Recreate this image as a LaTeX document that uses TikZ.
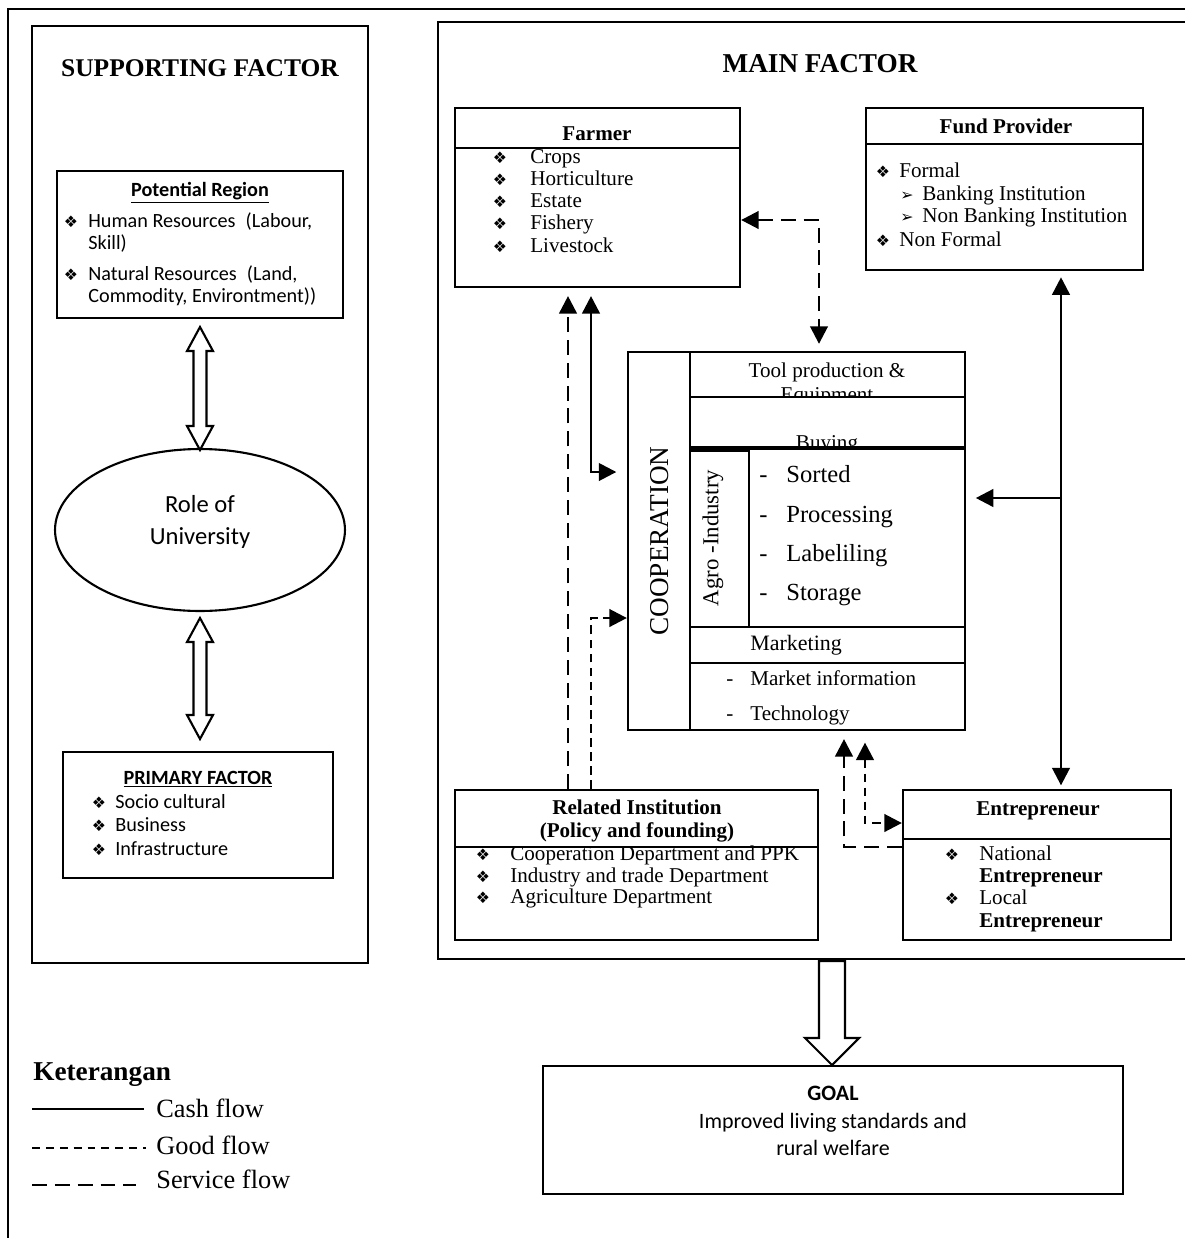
\documentclass[tikz,border=0pt]{standalone}
\usepackage{fontspec}
\setmainfont{Liberation Serif}
\newfontfamily\calibri{Carlito}
\newfontfamily\dingbat{DejaVu Sans}
\usetikzlibrary{arrows.meta, fit, shapes.geometric}

\tikzset{
  box/.style={draw, line width=1.3pt, inner sep=0pt},
  rule/.style={line width=1.3pt},
  outline/.style={line width=1.1pt},
  flow/.style={line width=1.5pt, >={Triangle[length=10pt,width=10pt]}},
  cash/.style={flow},
  good/.style={flow, dash pattern=on 5pt off 3pt},
  service/.style={flow, dash pattern=on 8.5pt off 4.5pt},
  hollow/.style={draw, line width=1.2pt, fill=white, line join=miter},
  lbl/.style={inner sep=0pt, anchor=base west},
  ctr/.style={inner sep=0pt, anchor=base},
  serif/.style={font=\fontsize{12}{14}\selectfont},
  serifbf/.style={font=\fontsize{12}{14}\selectfont\bfseries},
  sans/.style={font=\calibri\fontsize{11.5}{13}\selectfont},
  sansbf/.style={font=\calibri\fontsize{11.5}{13}\selectfont\bfseries},
}
\newcommand{\dmd}{{\dingbat\fontsize{9}{9}\selectfont ❖}}
\newcommand{\tri}{{\dingbat\fontsize{9}{9}\selectfont ➢}}

\begin{document}
\begin{tikzpicture}[x=0.02cm, y=-0.02cm]
    \useasboundingbox (0,0) rectangle (1185,1238);
    \draw[outline] (8,1238) -- (8,9) -- (1185,9);

    % supporting factor
    \node[box, fit={(32,26) (368,963)}] (supp) {};
    \node[ctr, font=\fontsize{14.5}{16}\selectfont\bfseries] (supptitle) at (200,76) {SUPPORTING FACTOR};
    \node[box, fit={(57,171) (343,318)}] (potreg) {};
    \node[ctr, sansbf] (pottitle) at (200,196) {\underline{Potential Region}};
    \foreach \y/\t [count=\i] in {227/{Human Resources\enspace(Labour,}, 249/{Skill)}, 280/{Natural Resources\enspace(Land,}, 302/{Commodity, Environtment))}}
        \node[lbl, sans] (pot\i) at (88,\y) {\t};
    \foreach \y [count=\i] in {227, 280}
        \node[ctr] (potb\i) at (71,\y) {\dmd};

    \node[draw, ellipse, line width=1.2pt, minimum width=5.8cm, minimum height=3.24cm] (univ) at (200,530) {};
    \node[ctr, font=\calibri\fontsize{14}{16}\selectfont] (univ1) at (200,512) {Role of};
    \node[ctr, font=\calibri\fontsize{14}{16}\selectfont] (univ2) at (200,544) {University};
    \foreach \ya/\yb in {327/450, 618/739}
        \draw[hollow] (200,\ya) -- (213,\ya+24) -- (206.5,\ya+24) -- (206.5,\yb-24) -- (213,\yb-24)
            -- (200,\yb) -- (187,\yb-24) -- (193.5,\yb-24) -- (193.5,\ya+24) -- (187,\ya+24) -- cycle;

    \node[box, fit={(63,752) (333,878)}] (prim) {};
    \node[ctr, sansbf] (primtitle) at (198,784) {\underline{PRIMARY FACTOR}};
    \foreach \y/\t [count=\i] in {808/Socio cultural, 831/Business, 855/Infrastructure} {
        \node[ctr] (primb\i) at (99,\y) {\dmd};
        \node[lbl, sans] (prim\i) at (115,\y) {\t};
    }

    % main factor
    \draw[rule] (1185,22) -- (438,22) -- (438,959) -- (1185,959);
    \node[ctr, font=\fontsize{15.5}{18}\selectfont\bfseries] (maintitle) at (820,72) {MAIN FACTOR};

    \node[box, fit={(455,108) (740,287)}] (farmer) {};
    \draw[rule] (455,148) -- (740,148);
    \node[ctr, serifbf] (farmtitle) at (597,140) {Farmer};
    \foreach \y/\t [count=\i] in {163/Crops, 185/Horticulture, 207/Estate, 229/Fishery, 252/Livestock} {
        \node[ctr] (farmb\i) at (500,\y) {\dmd};
        \node[lbl, serif] (farm\i) at (530,\y) {\t};
    }

    \node[box, fit={(866,108) (1143,270)}] (fund) {};
    \draw[rule] (866,144) -- (1143,144);
    \node[ctr, serifbf] (fundtitle) at (1006,133) {Fund Provider};
    \node[ctr] (fundb1) at (883,177) {\dmd};
    \node[lbl, serif] (fund1) at (899,177) {Formal};
    \node[ctr] (fundb2) at (907,200) {\tri};
    \node[lbl, serif] (fund2) at (922,200) {Banking Institution};
    \node[ctr] (fundb3) at (907,222) {\tri};
    \node[lbl, serif] (fund3) at (922,222) {Non Banking Institution};
    \node[ctr] (fundb4) at (883,246) {\dmd};
    \node[lbl, serif] (fund4) at (899,246) {Non Formal};

    % cooperation
    \node[box, fit={(628,352) (965,730)}] (coop) {};
    \draw[rule] (690,352) -- (690,730);
    \draw[rule] (690,397) -- (965,397);
    \draw[line width=2pt] (690,448) -- (965,448);
    \draw[rule] (690,627) -- (965,627);
    \draw[rule] (690,663) -- (965,663);
    \node[box, fit={(690,451) (749,627)}] (agro) {};
    \node[inner sep=0pt, rotate=90, font=\fontsize{15.5}{18}\selectfont] (cooptitle) at (660,541) {COOPERATION};
    \node[inner sep=0pt, rotate=90, font=\fontsize{13}{15}\selectfont] (agrotitle) at (713,538) {Agro -Industry};
    \begin{scope}
        \clip (690,352) rectangle (965,396);
        \node[ctr, serif] (tool1) at (827,377) {Tool production \&};
        \node[ctr, serif] (tool2) at (827,401) {Equipment};
    \end{scope}
    \begin{scope}
        \clip (690,398) rectangle (965,446);
        \node[ctr, serif] (buying) at (827,449) {Buying};
    \end{scope}
    \foreach \y/\t [count=\i] in {482/Sorted, 522/Processing, 561/Labeliling, 600/Storage} {
        \node[lbl, font=\fontsize{14}{16}\selectfont] (agrod\i) at (759,\y) {-};
        \node[lbl, font=\fontsize{14}{16}\selectfont] (agro\i) at (786,\y) {\t};
    }
    \node[lbl, font=\fontsize{12.5}{14}\selectfont] (market) at (750,650) {Marketing};
    \foreach \y/\t [count=\i] in {685/Market information, 720/Technology} {
        \node[lbl, serif] (mktd\i) at (726,\y) {-};
        \node[lbl, serif] (mkt\i) at (750,\y) {\t};
    }

    \node[box, fit={(455,790) (818,940)}] (rel) {};
    \draw[rule] (455,847) -- (818,847);
    \node[ctr, serifbf] (reltitle1) at (637,814) {Related Institution};
    \node[ctr, serifbf] (reltitle2) at (637,837) {(Policy and founding)};
    \foreach \y/\t [count=\i] in {860/Cooperation Department and PPK, 882/Industry and trade Department, 903/Agriculture Department} {
        \node[ctr] (relb\i) at (483,\y) {\dmd};
        \node[lbl, serif] (rel\i) at (510,\y) {\t};
    }

    \node[box, fit={(903,790) (1171,940)}] (ent) {};
    \draw[rule] (903,839) -- (1171,839);
    \node[ctr, serifbf] (enttitle) at (1038,815) {Entrepreneur};
    \node[ctr] (entb1) at (952,860) {\dmd};
    \node[lbl, serif] (ent1) at (979,860) {National};
    \node[lbl, serifbf] (ent2) at (979,882) {Entrepreneur};
    \node[ctr] (entb2) at (952,904) {\dmd};
    \node[lbl, serif] (ent3) at (979,904) {Local};
    \node[lbl, serifbf] (ent4) at (979,927) {Entrepreneur};

    % flows
    \coordinate (farmcoop) at (819,220);
    \coordinate (svcL) at (568,500);
    \coordinate (cashL) at (591,472);
    \coordinate (goodL) at (591,618);
    \coordinate (fundX) at (1061,498);
    \coordinate (svcB) at (844,847);
    \coordinate (goodB) at (865,823);
    \draw[service, <->, shorten >=4pt] (farmer.east |- farmcoop) -- (farmcoop) -- (farmcoop |- coop.north);
    \draw[service, ->, shorten >=4.5pt] (rel.north -| svcL) -- (farmer.south -| svcL);
    \draw[cash, <->, shorten <=4.5pt, shorten >=6pt] (farmer.south -| cashL) -- (cashL) -- (cashL -| coop.west);
    \draw[good, ->] (rel.north -| goodL) -- (goodL) -- (goodL -| coop.west);
    \draw[cash, <->, shorten <=3.5pt, shorten >=2pt] (fund.south -| fundX) -- (ent.north -| fundX);
    \draw[cash, ->, shorten >=5.5pt] (fundX) -- (fundX -| coop.east);
    \draw[service, ->, shorten >=4.5pt] (ent.west |- svcB) -- (svcB) -- (svcB |- coop.south);
    \draw[good, <->, shorten <=6.5pt] (goodB |- coop.south) -- (goodB) -- (goodB -| ent.west);

    % goal
    \draw[hollow] (819,961) -- (845,961) -- (845,1038) -- (859,1038) -- (832,1065) -- (805,1038) -- (819,1038) -- cycle;
    \node[box, fit={(543,1066) (1123,1194)}] (goal) {};
    \node[ctr, font=\calibri\fontsize{12.5}{15}\selectfont\bfseries] (goal1) at (833,1100) {GOAL};
    \node[ctr, font=\calibri\fontsize{12.5}{15}\selectfont] (goal2) at (833,1128) {Improved living standards and};
    \node[ctr, font=\calibri\fontsize{12.5}{15}\selectfont] (goal3) at (833,1155) {rural welfare};

    % legend
    \node[lbl, font=\fontsize{15.5}{18}\selectfont\bfseries] (legtitle) at (33,1080) {Keterangan};
    \coordinate (lgcash) at (32,1109);
    \coordinate (lggood) at (32,1148);
    \coordinate (lgsvc) at (32,1185);
    \draw[cash, line width=1.2pt] (lgcash) -- ++(112,0);
    \draw[good, line width=1.2pt, dash pattern=on 4.5pt off 3.4pt] (lggood) -- ++(114,0);
    \draw[service, line width=1.2pt] (lgsvc) -- ++(104,0);
    \node[lbl, font=\fontsize{15}{18}\selectfont] (lgcashtxt) at (156,1117) {Cash flow};
    \node[lbl, font=\fontsize{15}{18}\selectfont] (lggoodtxt) at (156,1154) {Good flow};
    \node[lbl, font=\fontsize{15}{18}\selectfont] (lgsvctxt) at (156,1188) {Service flow};
\end{tikzpicture}
\end{document}
